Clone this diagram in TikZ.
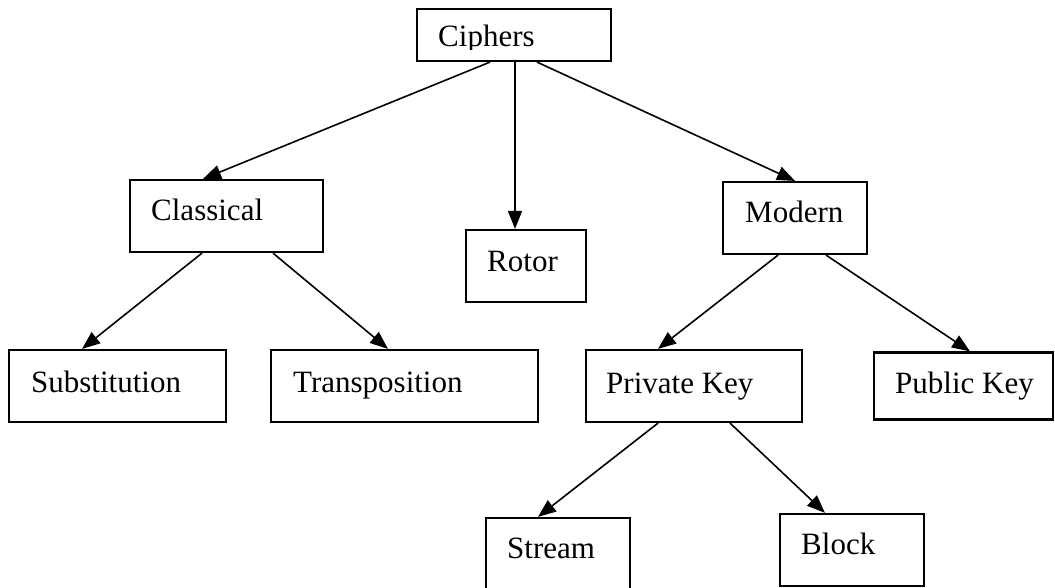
\documentclass[tikz,border=0pt]{standalone}
\usepackage{fontspec}
\setmainfont{Liberation Serif}
\usetikzlibrary{arrows.meta}
\begin{document}
\begin{tikzpicture}[x=1pt,y=-1pt,
  box/.style={draw=black,line width=2.2pt,rectangle,inner sep=0pt,fill=none},
  lbl/.style={anchor=base west,inner sep=0pt,font=\fontsize{31}{37}\selectfont},
  link/.style={line width=1.6pt,-{Triangle[length=18pt,width=14pt]}}]
\useasboundingbox (0,0) rectangle (1055,588);
% boxes: centre and size
\node[box,minimum width=194pt,minimum height=52pt] (ciphers) at (514,35) {};
\node[box,minimum width=193pt,minimum height=72pt] (classical) at (226.5,216) {};
\node[box,minimum width=120pt,minimum height=72pt] (rotor) at (526,266) {};
\node[box,minimum width=144pt,minimum height=72pt] (modern) at (795,218) {};
\node[box,minimum width=217pt,minimum height=72pt] (subst) at (117.5,386) {};
\node[box,minimum width=267pt,minimum height=72pt] (transp) at (404.5,386) {};
\node[box,minimum width=216pt,minimum height=72pt] (private) at (694,386) {};
\node[box,minimum width=179pt,minimum height=67pt] (public) at (963.5,386) {};
\node[box,minimum width=144pt,minimum height=84pt] (stream) at (558,560) {};
\node[box,minimum width=144pt,minimum height=72pt] (block) at (852,550) {};
% labels
\begin{scope}
  \clip (ciphers.north west) rectangle (611,49.5);
  \node[lbl] (tciphers) at (438,47) {Ciphers};
\end{scope}
\node[lbl] (tclassical) at (151,221) {Classical};
\node[lbl] (trotor) at (487,272) {Rotor};
\node[lbl] (tmodern) at (745,223) {Modern};
\node[lbl] (tsubst) at (31,392) {Substitution};
\node[lbl] (ttransp) at (293,392) {Transposition};
\node[lbl] (tprivate) at (606,393) {Private Key};
\node[lbl] (tpublic) at (895,393) {Public Key};
\node[lbl] (tstream) at (507,558) {Stream};
\node[lbl] (tblock) at (801,554) {Block};
% connectors
\draw[link] ([xshift=-24pt]ciphers.south) -- ([xshift=-23.5pt]classical.north);
\draw[link] ([xshift=1pt]ciphers.south) -- ([xshift=-11pt]rotor.north);
\draw[link] ([xshift=23pt]ciphers.south) -- (modern.north);
\draw[link] ([xshift=-24.5pt]classical.south) -- ([xshift=-35.5pt]subst.north);
\draw[link] ([xshift=46.5pt]classical.south) -- ([xshift=-16.5pt]transp.north);
\draw[link] ([xshift=-17pt]modern.south) -- ([xshift=-36pt]private.north);
\draw[link] ([xshift=31pt]modern.south) -- ([xshift=6.5pt]public.north);
\draw[link] ([xshift=-36pt]private.south) -- ([xshift=-20pt]stream.north);
\draw[link] ([xshift=36pt]private.south) -- ([xshift=-27pt]block.north);
\end{tikzpicture}
\end{document}
